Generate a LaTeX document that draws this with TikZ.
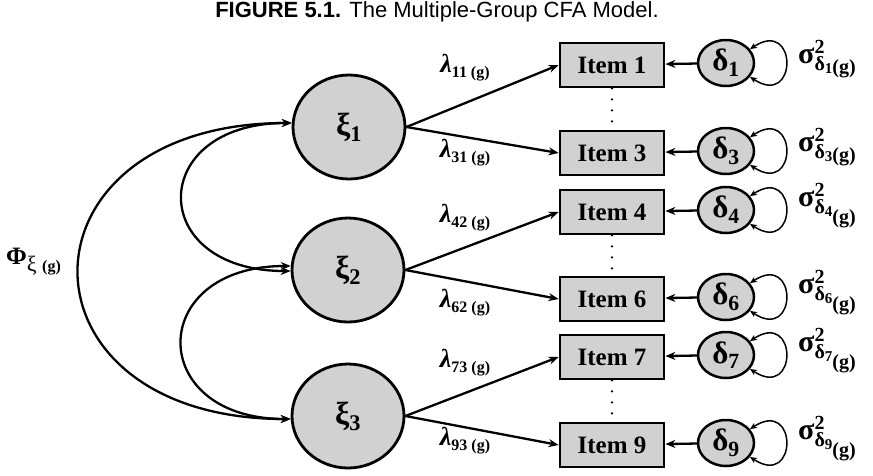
\documentclass[tikz,border=0pt]{standalone}
\usepackage{fontspec}
\setmainfont{Liberation Serif}
\newfontfamily\titlefont{Liberation Sans}
\usetikzlibrary{shapes.geometric, arrows.meta, positioning}

\definecolor{latentgray}{gray}{0.82}

% error variance label: sigma^2 with delta index and group
\newcommand{\errvar}[2]{σ\rlap{\raisebox{10pt}{\fontsize{20}{20}\selectfont 2}}%
  \raisebox{-7pt}{\fontsize{20}{20}\selectfont δ\raisebox{-3pt}{\fontsize{15}{15}\selectfont #1}\raisebox{#2}{(g)}}}
% loading label
\newcommand{\loading}[1]{\textit{λ}\raisebox{-5pt}{\fontsize{16}{16}\selectfont #1 (g)}}

\begin{document}
\begin{tikzpicture}[x=1pt, y=1pt]
    \tikzstyle{latent} = [ellipse, draw=black, line width=2.8pt, fill=latentgray, minimum width=112pt, minimum height=104pt, font=\fontsize{32}{32}\selectfont\bfseries]
    \tikzstyle{indicator} = [rectangle, draw=black, line width=2.8pt, fill=latentgray, minimum width=104pt, minimum height=44pt, font=\fontsize{25}{25}\selectfont\bfseries]
    \tikzstyle{errnode} = [ellipse, draw=black, line width=2.5pt, fill=latentgray, minimum width=56pt, minimum height=46pt, inner sep=0pt, font=\fontsize{31}{31}\selectfont\bfseries]
    \tikzstyle{arrow} = [line width=2.3pt, -{Stealth[length=10pt, width=8pt]}]
    \tikzstyle{covar} = [line width=2.3pt, {Stealth[length=10pt, width=8pt]}-{Stealth[length=10pt, width=8pt]}]
    \tikzstyle{selfvar} = [line width=1.5pt, {Stealth[length=7pt, width=6pt]}-{Stealth[length=7pt, width=6pt]}]
    \tikzstyle{dots} = [line width=2.6pt, line cap=round, dash pattern=on 0pt off 11pt]
    \tikzstyle{coef} = [font=\fontsize{26}{26}\selectfont\bfseries, inner sep=0pt]
    \tikzstyle{varlabel} = [anchor=west, font=\fontsize{30}{30}\selectfont\bfseries, inner sep=0pt]

    \useasboundingbox (0,0) rectangle (873,-475);

    \node (title) at (437,-12) {\titlefont\fontsize{22}{22}\selectfont\textbf{FIGURE 5.1.} The Multiple-Group CFA Model.};

    % factors
    \node (xi1) [latent] at (349,-127) {ξ\textsubscript{1}};
    \node (xi2) [latent] at (348,-270) {ξ\textsubscript{2}};
    \node (xi3) [latent] at (348,-416) {ξ\textsubscript{3}};

    % observed items
    \node (i1) [indicator] at (612,-65) {Item 1};
    \node (i3) [indicator] at (612,-153) {Item 3};
    \node (i4) [indicator] at (612,-212) {Item 4};
    \node (i6) [indicator] at (612,-299) {Item 6};
    \node (i7) [indicator] at (612,-357) {Item 7};
    \node (i9) [indicator] at (612,-445) {Item 9};

    % measurement errors
    \node (d1) [errnode] at (726,-63) {δ\textsubscript{1}};
    \node (d3) [errnode] at (726,-151) {δ\textsubscript{3}};
    \node (d4) [errnode] at (726,-210) {δ\textsubscript{4}};
    \node (d6) [errnode] at (726,-297) {δ\textsubscript{6}};
    \node (d7) [errnode] at (726,-355) {δ\textsubscript{7}};
    \node (d9) [errnode] at (726,-443) {δ\textsubscript{9}};

    \node (s1) [varlabel] at (798,-59) {\errvar{1}{-3pt}};
    \node (s3) [varlabel] at (798,-147) {\errvar{3}{-3pt}};
    \node (s4) [varlabel] at (798,-206) {\errvar{4}{-10pt}};
    \node (s6) [varlabel] at (798,-293) {\errvar{6}{-10pt}};
    \node (s7) [varlabel] at (798,-351) {\errvar{7}{-10pt}};
    \node (s9) [varlabel] at (798,-439) {\errvar{9}{-10pt}};

    % loadings
    \draw [arrow] (xi1.east) -- (i1.west);
    \draw [arrow] (xi1.east) -- (i3.west);
    \draw [arrow] (xi2.east) -- (i4.west);
    \draw [arrow] (xi2.east) -- (i6.west);
    \draw [arrow] (xi3.east) -- (i7.west);
    \draw [arrow] (xi3.east) -- (i9.west);

    \node (l11) [coef] at (465,-68) {\loading{11}};
    \node (l31) [coef] at (465,-153) {\loading{31}};
    \node (l42) [coef] at (465,-218) {\loading{42}};
    \node (l62) [coef] at (465,-303) {\loading{62}};
    \node (l73) [coef] at (465,-363) {\loading{73}};
    \node (l93) [coef] at (465,-441) {\loading{93}};

    % items left out
    \draw [dots] (i1.south) -- (i3.north);
    \draw [dots] (i4.south) -- (i6.north);
    \draw [dots] (i7.south) -- (i9.north);

    % errors to items, with their variances
    \draw [arrow] (d1) -- (i1);
    \draw [arrow] (d3) -- (i3);
    \draw [arrow] (d4) -- (i4);
    \draw [arrow] (d6) -- (i6);
    \draw [arrow] (d7) -- (i7);
    \draw [arrow] (d9) -- (i9);
    \draw [selfvar] (d1.30) .. controls +(48,32) and +(48,-32) .. (d1.-30);
    \draw [selfvar] (d3.30) .. controls +(48,32) and +(48,-32) .. (d3.-30);
    \draw [selfvar] (d4.30) .. controls +(48,32) and +(48,-32) .. (d4.-30);
    \draw [selfvar] (d6.30) .. controls +(48,32) and +(48,-32) .. (d6.-30);
    \draw [selfvar] (d7.30) .. controls +(48,32) and +(48,-32) .. (d7.-30);
    \draw [selfvar] (d9.30) .. controls +(48,32) and +(48,-32) .. (d9.-30);

    % factor covariances
    \draw [covar] (xi1.176) .. controls +(-145,0) and +(-145,0) .. (xi2.181);
    \draw [covar] (xi2.176) .. controls +(-145,0) and +(-145,0) .. (xi3.183);
    \draw [covar] (xi1.176) .. controls +(-283,0) and +(-283,0) .. (xi3.183);

    \node (phi) [anchor=west, inner sep=0pt, font=\fontsize{25}{25}\selectfont\bfseries] at (6,-262) {Φ\raisebox{-7pt}{\fontsize{22}{22}\selectfont\mdseries ξ \fontsize{16}{16}\selectfont\bfseries (g)}};
\end{tikzpicture}
\end{document}
